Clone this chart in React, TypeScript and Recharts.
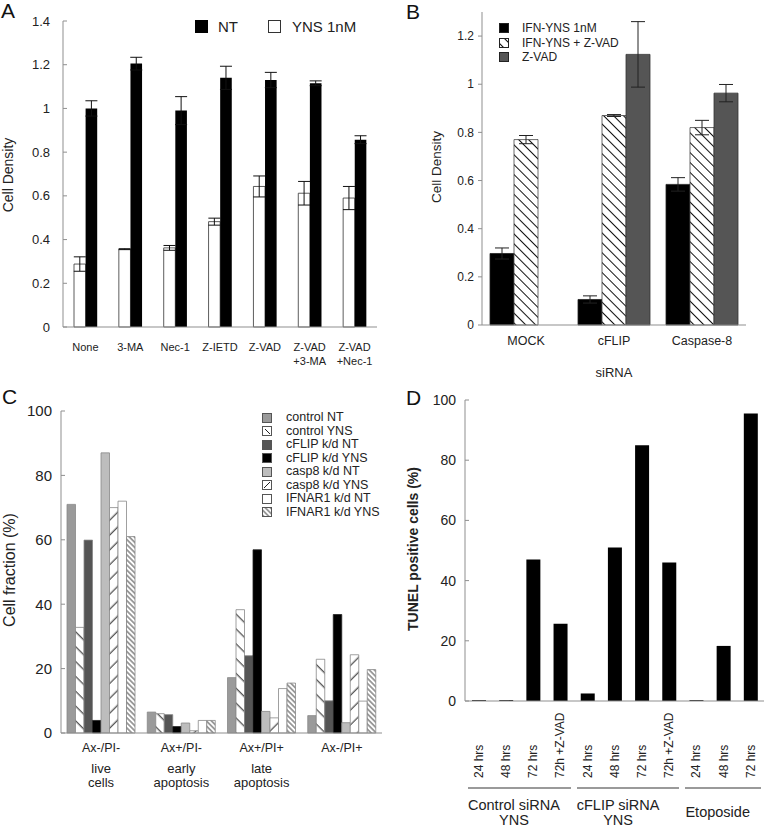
import React from 'react'
import { BarChart, Bar, XAxis, YAxis, ErrorBar, Legend } from 'recharts'

const FONT = '"Liberation Sans", Arial, Helvetica, sans-serif'
const INK = '#222'
const AXIS = '#8f8f8f'

// A: cell density, inhibitor panel
const aTreatments = ['None', '3-MA', 'Nec-1', 'Z-IETD', 'Z-VAD', 'Z-VAD\n+3-MA', 'Z-VAD\n+Nec-1']
const aYns = [0.288, 0.356, 0.362, 0.482, 0.643, 0.612, 0.59]
const aYnsErr = [0.033, 0.002, 0.011, 0.016, 0.048, 0.054, 0.053]
const aNt = [1.0, 1.205, 0.99, 1.14, 1.13, 1.115, 0.857]
const aNtErr = [0.035, 0.029, 0.064, 0.053, 0.035, 0.011, 0.018]
const aTicks = [0, 0.2, 0.4, 0.6, 0.8, 1, 1.2, 1.4]

// B: siRNA knock-downs
const bSirna = ['MOCK', 'cFLIP', 'Caspase-8']
const bSeries = ['IFN-YNS 1nM', 'IFN-YNS + Z-VAD', 'Z-VAD']
const bYns = [0.297, 0.106, 0.584]
const bYnsErr = [0.023, 0.015, 0.028]
const bYnsZvad = [0.77, 0.87, 0.82]
const bYnsZvadErr = [0.017, 0.004, 0.03]
const bZvad = [null, 1.124, 0.963]
const bZvadErr = [null, 0.136, 0.036]
const bTicks = [0, 0.2, 0.4, 0.6, 0.8, 1, 1.2]

// C: annexin / PI gates
const cGates = ['Ax-/PI-', 'Ax+/PI-', 'Ax+/PI+', 'Ax-/PI+']
const cGateNotes = [['live', 'cells'], ['early', 'apoptosis'], ['late', 'apoptosis'], []]
const cSeries = ['control NT', 'control YNS', 'cFLIP k/d NT', 'cFLIP k/d YNS', 'casp8 k/d NT', 'casp8 k/d YNS', 'IFNAR1 k/d NT', 'IFNAR1 k/d YNS']
const cControlNt = [71, 6.5, 17.2, 5.4]
const cControlYns = [32.8, 6, 38.3, 22.9]
const cCflipNt = [59.9, 5.7, 24, 10]
const cCflipYns = [3.9, 2, 56.9, 36.8]
const cCasp8Nt = [87, 3.1, 6.7, 3.2]
const cCasp8Yns = [70, 0.7, 4.7, 24.3]
const cIfnarNt = [72, 3.9, 13.8, 9.9]
const cIfnarYns = [61, 3.9, 15.5, 19.7]
const cTicks = [0, 20, 40, 60, 80, 100]

// D: TUNEL
const dGroups = ['Control siRNA\nYNS', 'cFLIP siRNA\nYNS', 'Etoposide']
const dTimes = ['24 hrs', '48 hrs', '72 hrs', '72h +Z-VAD', '24 hrs', '48 hrs', '72 hrs', '72h +Z-VAD', '24 hrs', '48 hrs', '72 hrs']
const dGroupOf = [0, 0, 0, 0, 1, 1, 1, 1, 2, 2, 2]
const dTunel = [0.3, 0.3, 47, 25.7, 2.5, 51, 85, 46, 0.3, 18.3, 95.5]
const dTicks = [0, 20, 40, 60, 80, 100]

const aData = aTreatments.map((name, i) => ({ name, yns: aYns[i], ynsErr: aYnsErr[i], nt: aNt[i], ntErr: aNtErr[i] }))
const bData = bSirna.map((name, i) => ({
  name,
  yns: bYns[i], ynsErr: bYnsErr[i],
  ynsZvad: bYnsZvad[i], ynsZvadErr: bYnsZvadErr[i],
  zvad: bZvad[i], zvadErr: bZvadErr[i],
}))
const cValues = [cControlNt, cControlYns, cCflipNt, cCflipYns, cCasp8Nt, cCasp8Yns, cIfnarNt, cIfnarYns]
const cData = cGates.map((gate, i) => {
  const row: any = { gate }
  cValues.forEach((vals, s) => { row['s' + s] = vals[i] })
  return row
})
const dData = dTimes.map((time, i) => ({ id: i, time, tunel: dTunel[i] }))

// styles
const bFills = ['#000', 'url(#hatchB)', '#555']
const cFills = ['#9a9a9a', 'url(#hatchBack)', '#555', '#000', '#bdbdbd', 'url(#hatchFwd)', '#fff', 'url(#hatchDense)']
const cSwatches = ['#9a9a9a', 'url(#swBack)', '#555', '#000', '#bdbdbd', 'url(#swFwd)', '#fff', 'url(#hatchDense)']

const D_W = 384
const D_LEFT = 81
const D_RIGHT = 4
const dBand = (D_W - D_LEFT - D_RIGHT) / dTimes.length

const Patterns = () => (
  <svg width={0} height={0} style={{ position: 'absolute' }} aria-hidden>
    <defs>
      <pattern id="hatchB" width={7} height={7} patternUnits="userSpaceOnUse" patternTransform="rotate(-45)">
        <rect width={7} height={7} fill="#fff" />
        <line x1={3.5} y1={0} x2={3.5} y2={7} stroke="#111" strokeWidth={1} />
      </pattern>
      <pattern id="hatchBack" width={10.5} height={10.5} patternUnits="userSpaceOnUse" patternTransform="rotate(-45)">
        <rect width={10.5} height={10.5} fill="#fff" />
        <line x1={5} y1={0} x2={5} y2={10.5} stroke="#222" strokeWidth={1} />
      </pattern>
      <pattern id="hatchFwd" width={10.5} height={10.5} patternUnits="userSpaceOnUse" patternTransform="rotate(45)">
        <rect width={10.5} height={10.5} fill="#fff" />
        <line x1={5} y1={0} x2={5} y2={10.5} stroke="#222" strokeWidth={1} />
      </pattern>
      <pattern id="hatchDense" width={3.6} height={3.6} patternUnits="userSpaceOnUse" patternTransform="rotate(-45)">
        <rect width={3.6} height={3.6} fill="#fff" />
        <line x1={1.8} y1={0} x2={1.8} y2={3.6} stroke="#333" strokeWidth={0.9} />
      </pattern>
      <pattern id="swBack" width={20} height={20} patternUnits="userSpaceOnUse">
        <rect width={20} height={20} fill="#fff" />
        <line x1={3} y1={3} x2={8} y2={8} stroke="#222" strokeWidth={1} />
      </pattern>
      <pattern id="swFwd" width={20} height={20} patternUnits="userSpaceOnUse">
        <rect width={20} height={20} fill="#fff" />
        <line x1={2} y1={8} x2={8} y2={2} stroke="#222" strokeWidth={1} />
      </pattern>
    </defs>
  </svg>
)

const Swatch = ({ fill, stroke = '#444', size = 10 }: any) => (
  <svg width={size} height={size} style={{ display: 'block', flex: 'none' }}>
    <rect x={0.5} y={0.5} width={size - 1} height={size - 1} fill={fill} stroke={stroke} />
  </svg>
)

const ATick = ({ x, y, payload }: any) => (
  <g>
    {String(payload.value).split('\n').map((t, k) => (
      <text key={k} x={x} y={y + 20 + k * 14} dy="0.35em" textAnchor="middle" fontSize={11} fill={INK}>{t}</text>
    ))}
  </g>
)

const BTick = ({ x, y, payload }: any) => (
  <text x={x} y={y + 16} dy="0.35em" textAnchor="middle" fontSize={12.5} fill={INK}>{payload.value}</text>
)

const CTick = ({ x, y, index }: any) => (
  <g>
    <text x={x} y={y + 15} dy="0.35em" textAnchor="middle" fontSize={12.5} fill={INK}>{cGates[index]}</text>
    {cGateNotes[index].map((t, k) => (
      <text key={k} x={x} y={y + 35 + k * 14.5} dy="0.35em" textAnchor="middle" fontSize={13} fill={INK}>{t}</text>
    ))}
  </g>
)

const DTick = ({ x, y, index }: any) => {
  const ly = y + 77
  return (
    <text x={x} y={ly} dy="0.36em" transform={`rotate(-90 ${x} ${ly})`} textAnchor="start" fontSize={12} fill={INK}>
      {dTimes[index]}
    </text>
  )
}

const ALegend = () => (
  <div style={{ display: 'flex', alignItems: 'center', fontSize: 15, lineHeight: 1, color: INK }}>
    <span style={{ width: 13, height: 13, background: '#000', display: 'inline-block' }} />
    <span style={{ marginLeft: 10 }}>NT</span>
    <span style={{ width: 13, height: 13, border: '1px solid #333', boxSizing: 'border-box', display: 'inline-block', marginLeft: 30 }} />
    <span style={{ marginLeft: 11 }}>YNS 1nM</span>
  </div>
)

const BLegend = () => (
  <div style={{ fontSize: 12, lineHeight: '14.5px', color: INK }}>
    {bSeries.map((s, i) => (
      <div key={s} style={{ display: 'flex', alignItems: 'center', height: 14.5 }}>
        <Swatch fill={bFills[i]} stroke="#222" />
        <span style={{ marginLeft: 13, whiteSpace: 'nowrap' }}>{s}</span>
      </div>
    ))}
  </div>
)

const CLegend = () => (
  <div style={{ fontSize: 12.5, lineHeight: '13.5px', color: INK }}>
    {cSeries.map((s, i) => (
      <div key={s} style={{ display: 'flex', alignItems: 'center', height: 13.5 }}>
        <Swatch fill={cSwatches[i]} stroke="#555" />
        <span style={{ marginLeft: 14, whiteSpace: 'nowrap' }}>{s}</span>
      </div>
    ))}
  </div>
)

const PanelA = () => (
  <BarChart width={384} height={400} data={aData} margin={{ top: 21, right: 7, bottom: 0, left: 0 }} barSize={11.6} barGap={0}>
    <XAxis dataKey="name" height={73} interval={0} stroke={AXIS} tickLine={false} tickSize={0} tickMargin={0} tick={<ATick />} />
    <YAxis width={63} domain={[0, 1.4]} ticks={aTicks} stroke={AXIS} tickSize={-4} tickMargin={17} tick={{ fill: INK, fontSize: 13 }} />
    <Bar dataKey="yns" fill="#fff" stroke="#333" strokeWidth={0.8} isAnimationActive={false}>
      <ErrorBar dataKey="ynsErr" width={6} stroke="#111" strokeWidth={1} isAnimationActive={false} />
    </Bar>
    <Bar dataKey="nt" fill="#000" isAnimationActive={false}>
      <ErrorBar dataKey="ntErr" width={6} stroke="#111" strokeWidth={1} isAnimationActive={false} />
    </Bar>
    <Legend layout="vertical" align="center" verticalAlign="middle" wrapperStyle={{ left: 195, top: 19, width: 180 }} content={() => <ALegend />} />
  </BarChart>
)

const PanelB = () => (
  <BarChart width={384} height={400} data={bData} margin={{ top: 12, right: 22, bottom: 0, left: 0 }} barSize={24} barGap={0}>
    <XAxis dataKey="name" height={75} interval={0} stroke={AXIS} tickLine={false} tickSize={0} tickMargin={0} tick={<BTick />} />
    <YAxis width={98} domain={[0, 1.3]} ticks={bTicks} stroke={AXIS} tickSize={4} tickMargin={4} tick={{ fill: INK, fontSize: 12 }} />
    <Bar dataKey="yns" fill={bFills[0]} stroke="#222" strokeWidth={0.8} isAnimationActive={false}>
      <ErrorBar dataKey="ynsErr" width={7} stroke="#222" strokeWidth={1} isAnimationActive={false} />
    </Bar>
    <Bar dataKey="ynsZvad" fill={bFills[1]} stroke="#444" strokeWidth={0.8} isAnimationActive={false}>
      <ErrorBar dataKey="ynsZvadErr" width={7} stroke="#222" strokeWidth={1} isAnimationActive={false} />
    </Bar>
    <Bar dataKey="zvad" fill={bFills[2]} stroke="#333" strokeWidth={0.8} isAnimationActive={false}>
      <ErrorBar dataKey="zvadErr" width={7} stroke="#222" strokeWidth={1} isAnimationActive={false} />
    </Bar>
    <Legend layout="vertical" align="center" verticalAlign="middle" wrapperStyle={{ left: 115, top: 21, width: 200 }} content={() => <BLegend />} />
  </BarChart>
)

const PanelC = () => (
  <BarChart width={384} height={430} data={cData} margin={{ top: 11, right: 2, bottom: 0, left: 0 }} barSize={8.5} barGap={0}>
    <XAxis dataKey="gate" height={97} interval={0} stroke={AXIS} tickLine={false} tickSize={0} tickMargin={0} tick={<CTick />} />
    <YAxis width={61} domain={[0, 100]} ticks={cTicks} stroke={AXIS} tickSize={-4} tickMargin={13} tick={{ fill: INK, fontSize: 15 }} />
    {cSeries.map((s, i) => (
      <Bar key={s} dataKey={'s' + i} name={s} fill={cFills[i]} stroke={i === 3 ? '#222' : '#888'} strokeWidth={0.8} isAnimationActive={false} />
    ))}
    <Legend layout="vertical" align="center" verticalAlign="middle" wrapperStyle={{ left: 262, top: 11, width: 120 }} content={() => <CLegend />} />
  </BarChart>
)

const PanelD = () => (
  <BarChart width={D_W} height={440} data={dData} margin={{ top: 10, right: D_RIGHT, bottom: 0, left: 0 }} barSize={14}>
    <XAxis dataKey="id" height={129} interval={0} stroke={AXIS} tickLine={false} tickSize={0} tickMargin={0} tick={<DTick />} />
    <YAxis width={D_LEFT} domain={[0, 100]} ticks={dTicks} stroke={AXIS} tickSize={-4} tickMargin={13} tick={{ fill: INK, fontSize: 14 }} />
    <Bar dataKey="tunel" fill="#000" isAnimationActive={false} />
  </BarChart>
)

// group brackets under panel D, placed from the same band width as the axis
const DGroupLabels = ({ left, axisY }: any) => (
  <>
    {dGroups.map((g, gi) => {
      const first = dGroupOf.indexOf(gi)
      const size = dGroupOf.filter((v) => v === gi).length
      const x0 = left + D_LEFT + first * dBand + 3
      const x1 = left + D_LEFT + (first + size) * dBand - 3
      const lines = g.split('\n')
      return (
        <React.Fragment key={g}>
          <div style={{ position: 'absolute', left: x0, top: axisY + 86, width: x1 - x0, height: 2, background: '#9a9a9a' }} />
          <div style={{ position: 'absolute', left: x0, top: axisY + 97 + (lines.length === 1 ? 7 : 0), fontSize: 14.5, lineHeight: '15px', textAlign: 'center', whiteSpace: 'nowrap', color: INK }}>
            {lines.map((t) => <div key={t}>{t}</div>)}
          </div>
        </React.Fragment>
      )
    })}
  </>
)

const Title = ({ x, y, size, bold, rotate, children }: any) => (
  <div style={{
    position: 'absolute', left: x, top: y, fontSize: size, fontWeight: bold ? 700 : 400, lineHeight: 1,
    whiteSpace: 'nowrap', color: INK, transform: `translate(-50%, -50%)${rotate ? ' rotate(-90deg)' : ''}`,
  }}>{children}</div>
)

const Letter = ({ x, y, children }: any) => (
  <div style={{ position: 'absolute', left: x, top: y, fontSize: 21, lineHeight: 1, color: '#111' }}>{children}</div>
)

export default function App() {
  return (
    <div style={{ position: 'absolute', left: 0, top: 0, width: 768, height: 830, background: '#fff', fontFamily: FONT, color: INK, overflow: 'hidden' }}>
      <Patterns />
      <div style={{ position: 'absolute', left: 0, top: 0 }}><PanelA /></div>
      <div style={{ position: 'absolute', left: 384, top: 0 }}><PanelB /></div>
      <div style={{ position: 'absolute', left: 0, top: 400 }}><PanelC /></div>
      <div style={{ position: 'absolute', left: 384, top: 390 }}><PanelD /></div>

      <DGroupLabels left={384} axisY={701} />

      <Title x={8} y={175} size={14} rotate>Cell Density</Title>
      <Title x={437} y={167} size={13.5} rotate>Cell Density</Title>
      <Title x={614} y={372} size={13}>siRNA</Title>
      <Title x={10} y={570} size={16} rotate>Cell fraction (%)</Title>
      <Title x={413} y={549} size={14} bold rotate>TUNEL positive cells (%)</Title>

      <Letter x={1} y={0}>A</Letter>
      <Letter x={406} y={1}>B</Letter>
      <Letter x={2} y={386}>C</Letter>
      <Letter x={406} y={387}>D</Letter>
    </div>
  )
}
